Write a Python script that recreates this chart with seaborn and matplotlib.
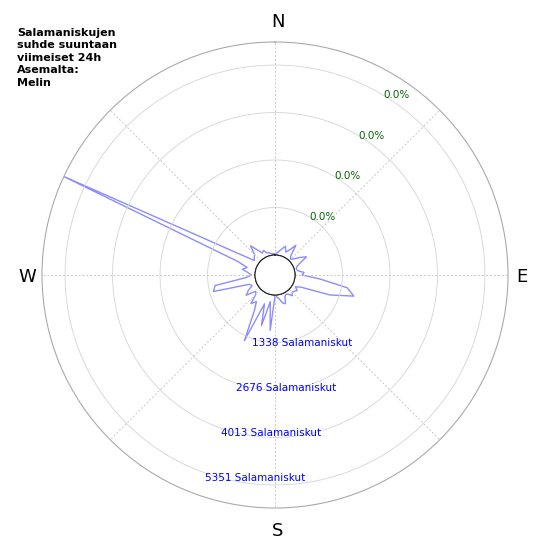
import numpy as np
import matplotlib
matplotlib.use("Agg")
import matplotlib.pyplot as plt
import seaborn as sns

sns.set_style("white")

angles_deg = list(range(0, 360, 5))
counts = [30, 60, 120, 200, 300, 150, 250, 460, 120, 60, 150, 300, 460, 200, 80,
          60, 100, 260, 200, 700, 1500, 1735, 1080, 250, 100, 200, 150, 120, 200, 100,
          60, 100, 300, 250, 120, 60, 30, 1000, 200, 910, 300, 1480, 600, 350, 490, 200,
          150, 430, 300, 150, 200, 1230, 1150, 250, 100, 200, 370, 250, 550, 6035, 700,
          150, 200, 250, 510, 300, 150, 200, 100, 80, 50, 40]
ring_values = [1338, 2676, 4013, 5351]
pct_labels = ["0.0%", "0.0%", "0.0%", "0.0%"]
title = "Salamaniskujen\nsuhde suuntaan\nviimeiset 24h\nAsemalta:\nMelin"

fig = plt.figure(figsize=(5.5, 5.5), dpi=100)
ax = fig.add_axes([42/550, 42/550, 466/550, 466/550], projection="polar")
ax.set_theta_zero_location("N")
ax.set_theta_direction(-1)
rmax = 6000
ax.set_ylim(0, rmax)
ax.set_rorigin(-563)

th = np.deg2rad(angles_deg + [angles_deg[0]])
vals = counts + [counts[0]]
sns.lineplot(x=th, y=vals, ax=ax, color="#8c8cff", linewidth=1, sort=False, estimator=None)

ax.set_yticks(ring_values)
ax.set_yticklabels([])
ax.set_xticks(np.deg2rad([0, 45, 90, 135, 180, 225, 270, 315]))
ax.set_xticklabels([])
ax.grid(False)
tt = np.linspace(0, 2*np.pi, 400)
for rv in ring_values:
    ax.plot(tt, [rv]*len(tt), color="#d4d4d4", lw=0.6)
for a in range(0, 360, 45):
    ax.plot([np.deg2rad(a)]*2, [0, rmax], color="#c8c8c8", lw=0.7, ls=(0, (2, 2)))
ax.plot(tt, [0]*len(tt), color="black", lw=0.8)
ax.spines["polar"].set_color("#aaaaaa")
ax.spines["polar"].set_linewidth(0.8)

for rv in ring_values:
    ax.text(np.deg2rad(199), rv + 130, f"{rv} Salamaniskut", color="blue", fontsize=7.5,
            ha="left", va="center")
for rv, lab in zip(ring_values, pct_labels):
    ax.text(np.deg2rad(31), rv, lab, color="darkgreen", fontsize=7.5, ha="left", va="center")

for lab, x, y in [("N", 278, 22), ("E", 522, 277), ("S", 278, 531), ("W", 27, 277)]:
    fig.text(x/550, 1 - y/550, lab, fontsize=13, ha="center", va="center", color="black")
fig.text(17/550, 1 - 28/550, title, fontsize=8, fontweight="bold", ha="left", va="top",
         linespacing=1.3, color="black")

fig.savefig("out.png", dpi=100)
